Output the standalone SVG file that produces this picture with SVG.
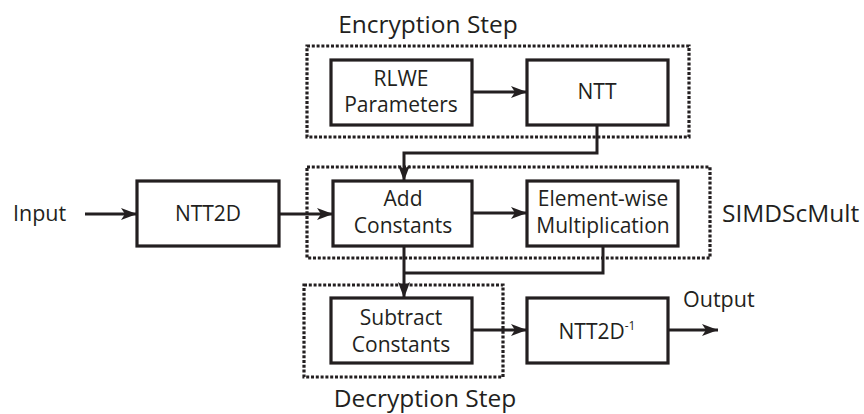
<svg xmlns="http://www.w3.org/2000/svg" width="864" height="414" viewBox="0 0 864 414">
<defs>
<marker id="ah" markerUnits="userSpaceOnUse" markerWidth="18" markerHeight="14" refX="16" refY="7" orient="auto">
<path d="M0,1 L16,7 L0,13 L4,7 Z" fill="#231f20"/>
</marker>
<style>
.box{fill:#fff;stroke:#231f20;stroke-width:3.2}
.grp{fill:none;stroke:#231f20;stroke-width:3.2;stroke-dasharray:3 1.8}
.c{fill:none;stroke:#231f20;stroke-width:3}
.a{marker-end:url(#ah)}
text{font-family:"Open Sans","Liberation Sans",sans-serif;fill:#231f20}
.t{font-size:21px;text-anchor:middle}
.l{font-size:24.5px}
</style>
</defs>
<rect width="864" height="414" fill="#fff"/>
<g id="groups">
<rect class="grp" x="307" y="46" width="382" height="91"/>
<rect class="grp" x="307" y="167" width="403" height="91"/>
<rect class="grp" x="304" y="285" width="199" height="92"/>
<text class="l" x="428" y="33" text-anchor="middle">Encryption Step</text>
<text class="l" x="425" y="407" text-anchor="middle">Decryption Step</text>
<text class="l" x="722" y="222">SIMDScMult</text>
</g>
<g id="connectors">
<path class="c a" d="M85,214 H137"/>
<path class="c a" d="M279,214 H333"/>
<path class="c a" d="M472,92 H527"/>
<path class="c a" d="M597,125 V153 H404 V181"/>
<path class="c a" d="M472,213 H527"/>
<path class="c" d="M603,246 V273 H404"/>
<path class="c a" d="M404,246 V298"/>
<path class="c a" d="M472,330 H527"/>
<path class="c a" d="M668,330 H718"/>
</g>
<g id="input"><text x="13" y="221" style="font-size:21.5px">Input</text></g>
<g id="output"><text x="683" y="307" style="font-size:21.5px">Output</text></g>
<g id="rlwe">
<rect class="box" x="331" y="60" width="141" height="65"/>
<text class="t" x="401" y="86">RLWE</text>
<text class="t" x="401" y="112">Parameters</text>
</g>
<g id="ntt">
<rect class="box" x="527" y="60" width="141" height="65"/>
<text class="t" x="597" y="99">NTT</text>
</g>
<g id="ntt2d">
<rect class="box" x="137" y="181" width="142" height="65"/>
<text class="t" x="208" y="221">NTT2D</text>
</g>
<g id="add-constants">
<rect class="box" x="333" y="181" width="139" height="65"/>
<text class="t" x="403" y="206">Add</text>
<text class="t" x="403" y="233">Constants</text>
</g>
<g id="elementwise">
<rect class="box" x="527" y="181" width="151" height="65"/>
<text class="t" x="603" y="206">Element-wise</text>
<text class="t" x="603" y="233">Multiplication</text>
</g>
<g id="subtract-constants">
<rect class="box" x="331" y="298" width="141" height="65"/>
<text class="t" x="401" y="325">Subtract</text>
<text class="t" x="401" y="352">Constants</text>
</g>
<g id="ntt2d-inv">
<rect class="box" x="527" y="298" width="141" height="65"/>
<text class="t" x="597" y="339">NTT2D<tspan dy="-9" style="font-size:12px">-1</tspan></text>
</g>
</svg>
